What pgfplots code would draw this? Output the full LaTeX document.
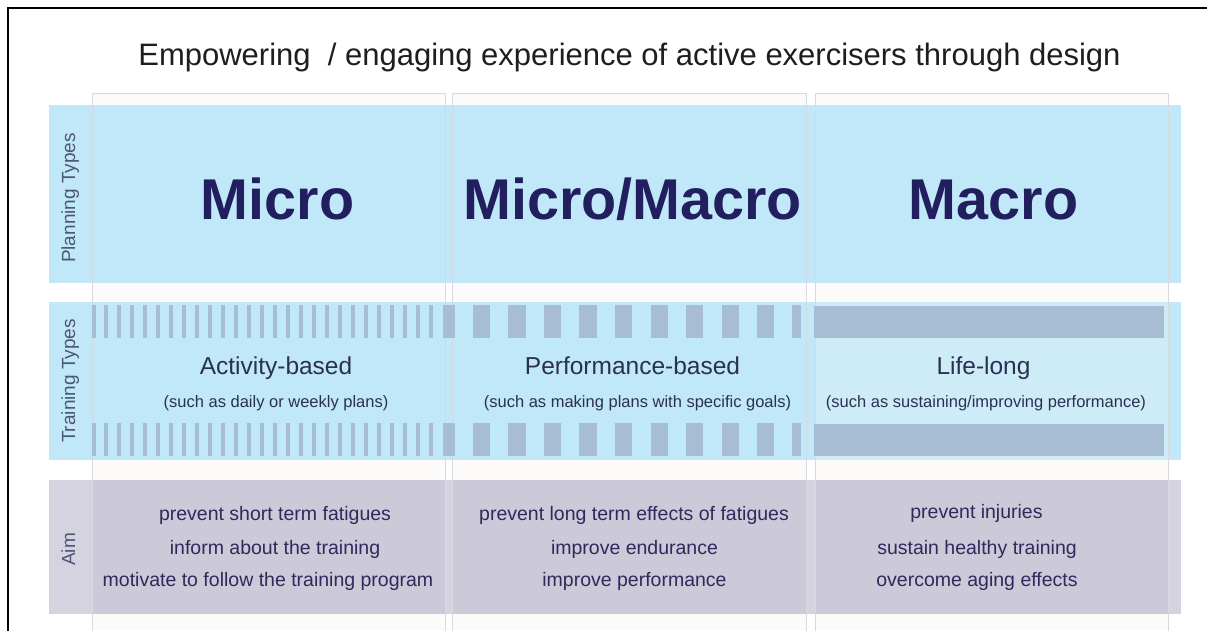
\documentclass[border=0pt]{standalone}
\usepackage{pgfplots}
\pgfplotsset{compat=1.18}
\usepackage{fontspec}
\setmainfont{Liberation Sans}
\definecolor{bandblue}{RGB}{193,232,248}
\definecolor{trainlight}{RGB}{206,236,248}
\definecolor{aimlight}{RGB}{214,211,225}
\definecolor{aimdark}{RGB}{204,201,217}
\definecolor{stripe}{RGB}{166,189,212}
\definecolor{colline}{RGB}{214,216,226}
\definecolor{colfill}{RGB}{253,250,250}
\definecolor{navy}{RGB}{34,31,94}
\definecolor{traintext}{RGB}{43,48,82}
\definecolor{aimtext}{RGB}{46,42,92}
\definecolor{rowlabel}{RGB}{76,86,118}
\definecolor{titletext}{RGB}{30,30,30}
\newcommand{\rect}[5]{\addplot[draw=none,fill=#1] coordinates {(#2,#3) (#4,#3) (#4,#5) (#2,#5)} -- cycle;}
\newcommand{\colbox}[2]{\addplot[draw=colline,line width=0.8pt] coordinates {(#1,631) (#1,93) (#2,93) (#2,631)};}
\begin{document}
\begin{tikzpicture}
\begin{axis}[width=1207pt,height=630pt,scale only axis,
  xmin=0,xmax=1207,ymin=0,ymax=630,y dir=reverse,hide axis,clip=true]
% background
\rect{white}{0}{0}{1207}{630}
% column fills
\rect{colfill}{92}{93}{445}{630}
\rect{colfill}{452}{93}{806}{630}
\rect{colfill}{815}{93}{1168}{630}
% planning band
\rect{bandblue}{49}{105}{1181}{283}
% training band
\rect{bandblue}{49}{302}{1181}{460}
\rect{trainlight}{815}{302}{1168}{460}
% aim band
\rect{aimlight}{49}{480}{1181}{614}
\rect{aimdark}{92}{480}{445}{614}
\rect{aimdark}{452}{480}{806}{614}
\rect{aimdark}{815}{480}{1168}{614}
% column outlines
\colbox{92}{445}
\colbox{452}{806}
\colbox{815}{1168}
% thin stripes (activity-based)
\addplot[draw=stripe,line width=4pt,unbounded coords=jump] table[row sep=\\] {
x y\\
94 305\\ 94 338\\ nan nan\\ 94 423\\ 94 456\\ nan nan\\
106 305\\ 106 338\\ nan nan\\ 106 423\\ 106 456\\ nan nan\\
119 305\\ 119 338\\ nan nan\\ 119 423\\ 119 456\\ nan nan\\
132 305\\ 132 338\\ nan nan\\ 132 423\\ 132 456\\ nan nan\\
145 305\\ 145 338\\ nan nan\\ 145 423\\ 145 456\\ nan nan\\
158 305\\ 158 338\\ nan nan\\ 158 423\\ 158 456\\ nan nan\\
171 305\\ 171 338\\ nan nan\\ 171 423\\ 171 456\\ nan nan\\
184 305\\ 184 338\\ nan nan\\ 184 423\\ 184 456\\ nan nan\\
197 305\\ 197 338\\ nan nan\\ 197 423\\ 197 456\\ nan nan\\
210 305\\ 210 338\\ nan nan\\ 210 423\\ 210 456\\ nan nan\\
223 305\\ 223 338\\ nan nan\\ 223 423\\ 223 456\\ nan nan\\
236 305\\ 236 338\\ nan nan\\ 236 423\\ 236 456\\ nan nan\\
249 305\\ 249 338\\ nan nan\\ 249 423\\ 249 456\\ nan nan\\
262 305\\ 262 338\\ nan nan\\ 262 423\\ 262 456\\ nan nan\\
275 305\\ 275 338\\ nan nan\\ 275 423\\ 275 456\\ nan nan\\
288 305\\ 288 338\\ nan nan\\ 288 423\\ 288 456\\ nan nan\\
301 305\\ 301 338\\ nan nan\\ 301 423\\ 301 456\\ nan nan\\
314 305\\ 314 338\\ nan nan\\ 314 423\\ 314 456\\ nan nan\\
327 305\\ 327 338\\ nan nan\\ 327 423\\ 327 456\\ nan nan\\
340 305\\ 340 338\\ nan nan\\ 340 423\\ 340 456\\ nan nan\\
353 305\\ 353 338\\ nan nan\\ 353 423\\ 353 456\\ nan nan\\
366 305\\ 366 338\\ nan nan\\ 366 423\\ 366 456\\ nan nan\\
379 305\\ 379 338\\ nan nan\\ 379 423\\ 379 456\\ nan nan\\
392 305\\ 392 338\\ nan nan\\ 392 423\\ 392 456\\ nan nan\\
405 305\\ 405 338\\ nan nan\\ 405 423\\ 405 456\\ nan nan\\
418 305\\ 418 338\\ nan nan\\ 418 423\\ 418 456\\ nan nan\\
431 305\\ 431 338\\ nan nan\\ 431 423\\ 431 456\\
};
% wide stripes (performance-based)
\addplot[draw=stripe,line width=17.5pt,unbounded coords=jump] table[row sep=\\] {
x y\\
481.5 305\\ 481.5 338\\ nan nan\\ 481.5 423\\ 481.5 456\\ nan nan\\
517 305\\ 517 338\\ nan nan\\ 517 423\\ 517 456\\ nan nan\\
552.5 305\\ 552.5 338\\ nan nan\\ 552.5 423\\ 552.5 456\\ nan nan\\
588 305\\ 588 338\\ nan nan\\ 588 423\\ 588 456\\ nan nan\\
623.5 305\\ 623.5 338\\ nan nan\\ 623.5 423\\ 623.5 456\\ nan nan\\
659.5 305\\ 659.5 338\\ nan nan\\ 659.5 423\\ 659.5 456\\ nan nan\\
694.5 305\\ 694.5 338\\ nan nan\\ 694.5 423\\ 694.5 456\\ nan nan\\
730.5 305\\ 730.5 338\\ nan nan\\ 730.5 423\\ 730.5 456\\ nan nan\\
765.5 305\\ 765.5 338\\ nan nan\\ 765.5 423\\ 765.5 456\\
};
\rect{stripe}{443}{305}{455}{338}
\rect{stripe}{443}{423}{455}{456}
\rect{stripe}{792}{305}{801}{338}
\rect{stripe}{792}{423}{801}{456}
% solid bars (life-long)
\rect{stripe}{814}{306}{1164}{338}
\rect{stripe}{814}{424}{1164}{456}
% frame
\addplot[draw=black,line width=2pt] coordinates {(8,631) (8,8) (1208,8)};
% title
\node[anchor=base,text=titletext,font=\fontsize{31}{36}\selectfont] at (axis cs:629.5,65)
  {Empowering \ / engaging experience of active exercisers through design};
% row labels
\node[anchor=base,rotate=90,text=rowlabel,font=\fontsize{19}{22}\selectfont] at (axis cs:75,198) {Planning Types};
\node[anchor=base,rotate=90,text=rowlabel,font=\fontsize{19}{22}\selectfont] at (axis cs:75,381) {Training Types};
\node[anchor=base,rotate=90,text=rowlabel,font=\fontsize{19}{22}\selectfont] at (axis cs:75,549.5) {Aim};
% planning types
\node[anchor=base,text=navy,font=\fontsize{57.5}{60}\selectfont\bfseries] at (axis cs:277.5,219) {Micro};
\node[anchor=base,text=navy,font=\fontsize{57.5}{60}\selectfont\bfseries] at (axis cs:632.5,219) {Micro/Macro};
\node[anchor=base,text=navy,font=\fontsize{57.5}{60}\selectfont\bfseries] at (axis cs:993.5,219) {Macro};
% training types
\node[anchor=base,text=traintext,font=\fontsize{24.5}{28}\selectfont] at (axis cs:276,374) {Activity-based};
\node[anchor=base,text=traintext,font=\fontsize{24.5}{28}\selectfont] at (axis cs:632.5,374) {Performance-based};
\node[anchor=base,text=traintext,font=\fontsize{24.5}{28}\selectfont] at (axis cs:983.5,374) {Life-long};
\node[anchor=base,text=traintext,font=\fontsize{16.5}{20}\selectfont] at (axis cs:276,407) {(such as daily or weekly plans)};
\node[anchor=base,text=traintext,font=\fontsize{16.5}{20}\selectfont] at (axis cs:637.5,407) {(such as making plans with specific goals)};
\node[anchor=base,text=traintext,font=\fontsize{16.5}{20}\selectfont] at (axis cs:986,407) {(such as sustaining/improving performance)};
% aims
\node[anchor=base,text=aimtext,font=\fontsize{19.5}{23}\selectfont] at (axis cs:275,520) {prevent short term fatigues};
\node[anchor=base,text=aimtext,font=\fontsize{19.5}{23}\selectfont] at (axis cs:275,554) {inform about the training};
\node[anchor=base,text=aimtext,font=\fontsize{19.5}{23}\selectfont] at (axis cs:268,586) {motivate to follow the training program};
\node[anchor=base,text=aimtext,font=\fontsize{19.5}{23}\selectfont] at (axis cs:634,520) {prevent long term effects of fatigues};
\node[anchor=base,text=aimtext,font=\fontsize{19.5}{23}\selectfont] at (axis cs:634.5,554) {improve endurance};
\node[anchor=base,text=aimtext,font=\fontsize{19.5}{23}\selectfont] at (axis cs:634.5,586) {improve performance};
\node[anchor=base,text=aimtext,font=\fontsize{19.5}{23}\selectfont] at (axis cs:976.5,518) {prevent injuries};
\node[anchor=base,text=aimtext,font=\fontsize{19.5}{23}\selectfont] at (axis cs:977,554) {sustain healthy training};
\node[anchor=base,text=aimtext,font=\fontsize{19.5}{23}\selectfont] at (axis cs:977,586) {overcome aging effects};
\end{axis}
\end{tikzpicture}
\end{document}
